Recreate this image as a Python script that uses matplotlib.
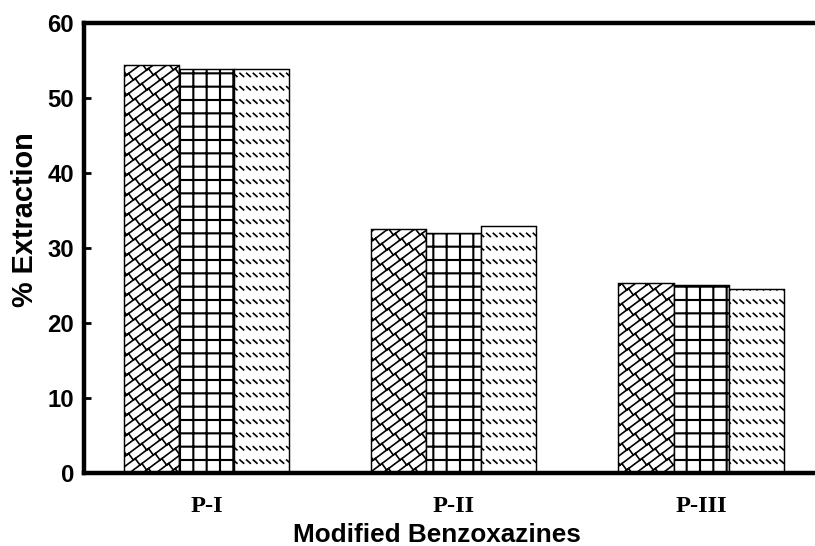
import warnings

import numpy as np
import matplotlib
matplotlib.use('Agg')
import matplotlib.pyplot as plt
from matplotlib import hatch as mhatch
from matplotlib.path import Path

warnings.filterwarnings('ignore', message='.*hatch must consist.*')

# extraction data, three runs per benzoxazine
groups = ['P-I', 'P-II', 'P-III']
run1 = [54.4, 32.5, 25.4]
run2 = [53.9, 32.0, 25.1]
run3 = [53.9, 32.9, 24.6]
yticks = [0, 10, 20, 30, 40, 50, 60]


def brick_segments():
    # diagonal brick wall: long edges with slope 3/4, short staggered joints
    segs = []
    for k in range(-8, 11):
        segs.append([(-0.3, -0.3 * 0.75 + k / 8), (1.3, 1.3 * 0.75 + k / 8)])
        for j in range(-3, 10):
            x0 = j / 6 + (k % 2) / 12
            y0 = 0.75 * x0 + k / 8
            segs.append([(x0, y0), (x0 - 0.06, y0 + 0.08)])
    return segs


def dash_segments():
    # rows of short "\" dashes
    segs = []
    for r in range(-1, 8):
        y0 = r / 6 + 1 / 12
        for i in range(-1, 14):
            x0 = i / 12
            segs.append([(x0, y0), (x0 + 0.045, y0 - 0.04)])
    return segs


class SegmentHatch(mhatch.HatchPatternBase):
    key = ''
    maker = None

    def __init__(self, hatch, density):
        self.segs = self.maker() if self.key in hatch else []
        self.num_vertices = len(self.segs) * 2

    def set_vertices_and_codes(self, vertices, codes):
        vertices[:] = np.array(self.segs, dtype=float).reshape(-1, 2)
        codes[0::2] = Path.MOVETO
        codes[1::2] = Path.LINETO


class BrickHatch(SegmentHatch):
    key = 'b'
    maker = staticmethod(brick_segments)


class DashHatch(SegmentHatch):
    key = 'd'
    maker = staticmethod(dash_segments)


mhatch._hatch_types.extend([BrickHatch, DashHatch])

plt.rcParams['hatch.color'] = 'black'

fig = plt.figure(figsize=(815 / 80, 546 / 80), dpi=80)
ax = fig.add_axes([84 / 815, 1 - 473 / 546, 1 - 84 / 815, 450 / 546])

x = np.arange(len(groups))
w = 0.2225
styles = [(run1, 'b', 1.5), (run2, '+', 1.9), (run3, 'd', 1.5)]
for i, (vals, hp, hlw) in enumerate(styles):
    with plt.rc_context({'hatch.linewidth': hlw}):
        bars = ax.bar(x + (i - 1) * w, vals, width=w, color='white',
                      edgecolor='black', linewidth=1.3, hatch=hp)
    for b in bars:
        if hasattr(b, 'set_hatch_linewidth'):
            b.set_hatch_linewidth(hlw)

ax.set_xlim(-0.4954, 2.461)
ax.set_ylim(0, 60)
ax.set_yticks(yticks)
ax.set_yticklabels([str(t) for t in yticks], family='Liberation Sans',
                   fontweight='bold', fontsize=21.5)
ax.set_xticks(x)
ax.set_xticklabels(groups, family='Liberation Serif', fontweight='bold',
                   fontsize=22)
ax.tick_params(axis='y', direction='in', length=6, width=2.5, pad=9)
ax.tick_params(axis='x', length=0, pad=21)

for side in ['left', 'top', 'bottom']:
    ax.spines[side].set_linewidth(4)
ax.spines['right'].set_visible(False)

ax.set_xlabel('Modified Benzoxazines', family='Liberation Sans',
              fontweight='bold', fontsize=23.5)
ax.xaxis.set_label_coords(0.483, -0.112)
ax.set_ylabel('% Extraction', family='Liberation Sans',
              fontweight='bold', fontsize=26)
ax.yaxis.set_label_coords(-0.062, 0.563)

fig.savefig('out.png', dpi=80)
